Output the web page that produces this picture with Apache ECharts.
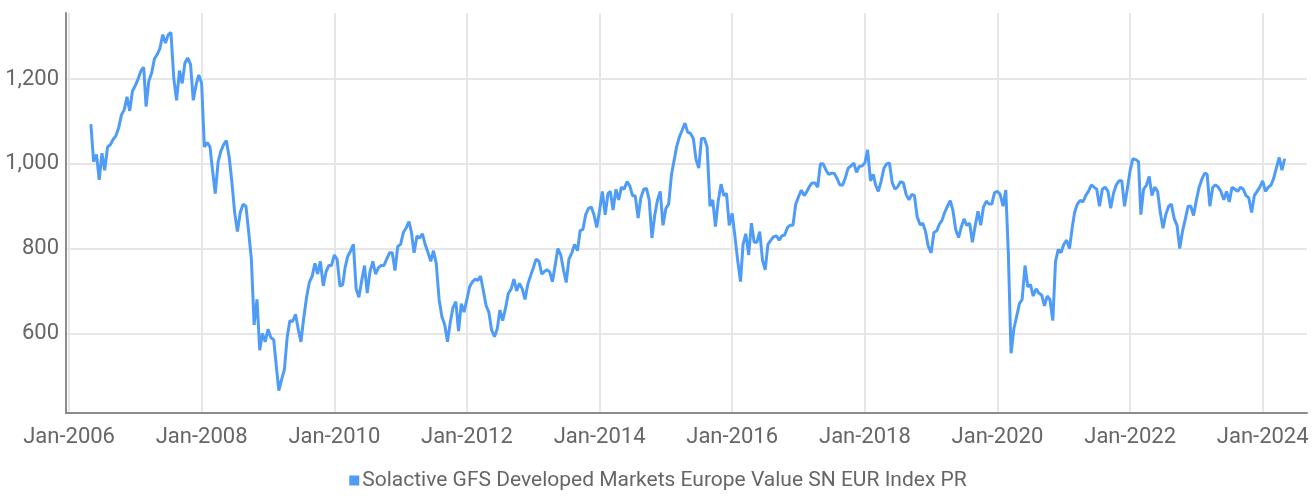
<!DOCTYPE html>
<html><head><meta charset="utf-8">
<script src="https://cdn.jsdelivr.net/npm/echarts@6/dist/echarts.min.js"></script>
<style>html,body{margin:0;padding:0;background:#fff}#c{width:1316px;height:496px}</style>
</head><body><div id="c"></div>
<script>
const seriesName = 'Solactive GFS Developed Markets Europe Value SN EUR Index PR';
// values sampled on the 1st and 16th of each month; 2006 starts in May
const firstHalfMonth2006 = 8;
const v2006 = [1094,1005,1022,962,1025,985,1040,1045,1058,1066,1085,1115,1128,1158,1125,1172];
const v2007 = [1185,1200,1220,1228,1135,1195,1215,1248,1258,1272,1305,1285,1305,1310,1200,1150,1220,1190,1238,1250,1235,1150,1185,1210];
const v2008 = [1190,1040,1050,1040,985,930,1005,1030,1045,1055,1015,955,885,840,885,905,900,840,775,620,680,560,600,580];
const v2009 = [610,590,585,520,465,490,515,590,630,628,645,610,580,635,685,720,735,765,740,770,712,745,760,760];
const v2010 = [785,775,711,715,755,782,795,810,705,685,725,760,695,745,770,740,755,760,760,775,790,790,748,805];
const v2011 = [810,838,849,864,840,790,830,825,835,810,790,770,795,765,680,640,620,580,625,660,675,605,670,650];
const v2012 = [680,710,722,728,725,735,700,665,650,608,592,610,655,630,660,694,705,728,700,718,705,680,715,735];
const v2013 = [755,775,770,740,745,750,745,722,760,800,785,750,720,775,790,810,795,843,845,880,895,898,880,850];
const v2014 = [890,935,880,930,935,891,940,915,945,940,958,948,925,925,872,920,940,942,915,825,880,915,935,855];
const v2015 = [895,905,975,1010,1040,1063,1080,1096,1075,1072,1060,1010,990,1060,1060,1040,900,915,852,912,952,925,930,855];
const v2016 = [883,830,770,722,810,835,785,860,815,815,840,773,750,810,820,828,830,820,830,832,850,855,855,905];
const v2017 = [923,938,925,935,946,955,955,945,1000,1000,985,975,978,978,965,950,950,968,990,995,1002,980,994,995];
const v2018 = [1002,1033,960,975,950,935,960,990,1000,1002,955,940,946,958,955,928,915,928,925,875,856,860,840,805];
const v2019 = [790,838,842,858,866,885,900,913,890,845,826,851,870,855,860,815,855,888,855,898,912,905,905,932];
const v2020 = [935,928,900,938,790,553,612,640,670,680,760,710,715,688,705,695,690,665,688,680,630,770,798,790];
const v2021 = [810,820,800,850,885,905,914,910,925,935,950,945,940,900,940,945,935,895,930,950,960,960,900,940];
const v2022 = [985,1012,1010,1005,880,940,950,970,925,945,935,885,848,880,900,905,870,855,800,840,870,900,900,878];
const v2023 = [915,945,965,978,975,900,945,950,945,935,915,935,910,945,940,935,945,940,925,920,885,925,935,945];
const v2024 = [960,935,945,950,965,990,1015,985,1012];

const yTicks = [600, 800, 1000, 1200];
const xTickYears = [2006, 2008, 2010, 2012, 2014, 2016, 2018, 2020, 2022, 2024];

const yearArrays = [[2006,v2006],[2007,v2007],[2008,v2008],[2009,v2009],[2010,v2010],[2011,v2011],[2012,v2012],[2013,v2013],[2014,v2014],[2015,v2015],[2016,v2016],[2017,v2017],[2018,v2018],[2019,v2019],[2020,v2020],[2021,v2021],[2022,v2022],[2023,v2023],[2024,v2024]];
const data = [];
yearArrays.forEach(([y, arr]) => {
  const s = y === 2006 ? firstHalfMonth2006 : 0;
  arr.forEach((v, i) => {
    const h = s + i;
    const m = Math.floor(h / 2);
    const d = h % 2 ? 16 : 1;
    data.push([new Date(y, m, d).getTime(), v]);
  });
});
const xTicks = xTickYears.map(y => new Date(y, 0, 1).getTime());

const font = 'Roboto, "Noto Sans", sans-serif';
const txt = '#666666';
const axisColor = '#8c8c8c';
const gridColor = '#e6e6e6';

const chart = echarts.init(document.getElementById('c'), null, {renderer: 'canvas'});
chart.setOption({
  animation: false,
  backgroundColor: '#ffffff',
  grid: {left: 66, right: 9, top: 13, bottom: 83, containLabel: false},
  legend: {
    data: [seriesName], top: 465, left: 'center', icon: 'rect',
    itemWidth: 10, itemHeight: 10, itemGap: 4,
    textStyle: {color: txt, fontSize: 21, fontFamily: font, padding: [0, 0, 0, -2]}
  },
  xAxis: {
    type: 'value',
    min: new Date(2005, 11, 15).getTime(),
    max: new Date(2024, 8, 1).getTime(),
    axisLine: {show: true, lineStyle: {color: axisColor, width: 2}},
    axisTick: {show: false, customValues: xTicks},
    axisLabel: {
      customValues: xTicks, color: txt, fontSize: 22, fontFamily: font, margin: 13,
      formatter: v => 'Jan-' + new Date(v).getFullYear()
    },
    splitLine: {show: true, lineStyle: {color: gridColor, width: 2}}
  },
  yAxis: {
    type: 'value', min: 412, max: 1356,
    axisLine: {show: true, lineStyle: {color: axisColor, width: 2}},
    axisTick: {show: false, customValues: yTicks},
    axisLabel: {
      customValues: yTicks, color: txt, fontSize: 22, fontFamily: font, margin: 7,
      formatter: v => v.toLocaleString('en-US')
    },
    splitLine: {show: true, lineStyle: {color: gridColor, width: 2}}
  },
  series: [{
    name: seriesName, type: 'line', data: data, showSymbol: false, symbol: 'none',
    lineStyle: {width: 3, color: '#4f9cf8'}, itemStyle: {color: '#4f9cf8'},
    emphasis: {disabled: true}
  }]
});
</script></body></html>
